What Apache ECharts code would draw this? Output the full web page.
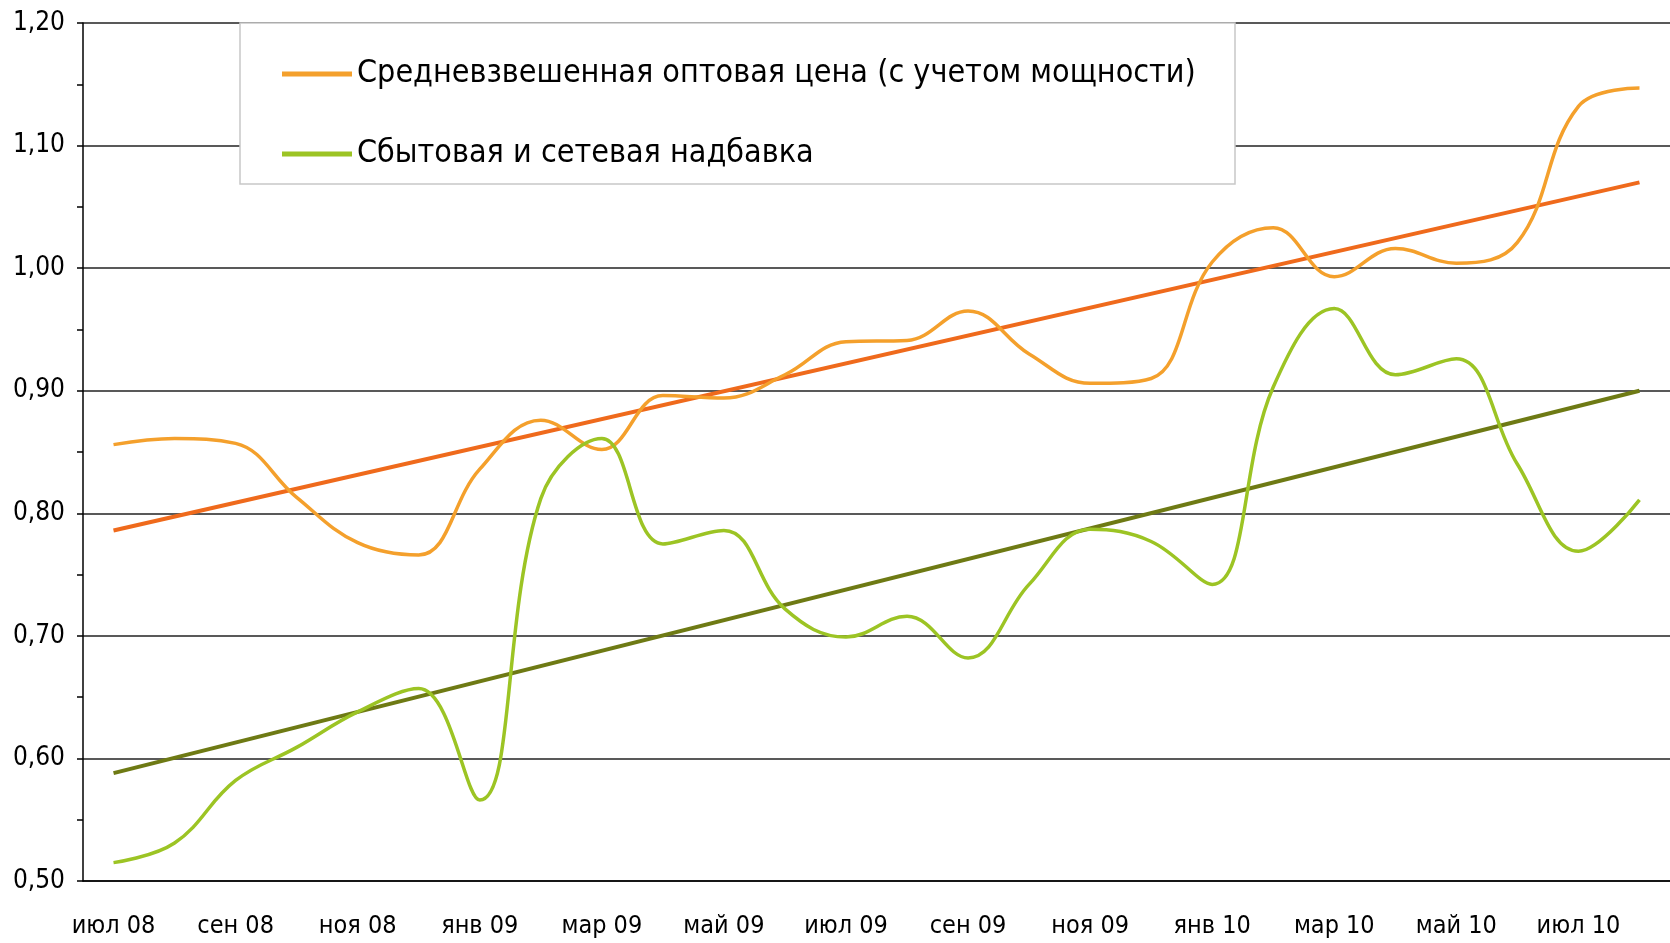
<!DOCTYPE html>
<html>
<head>
<meta charset="utf-8">
<script src="https://cdn.jsdelivr.net/npm/echarts@6/dist/echarts.min.js"></script>
<style>
  html, body { margin: 0; padding: 0; background: #fff; }
  #chart { width: 1670px; height: 943px; }
</style>
</head>
<body>
<div id="chart"></div>
<script>
var months = ['июл 08', 'авг 08', 'сен 08', 'окт 08', 'ноя 08', 'дек 08',
  'янв 09', 'фев 09', 'мар 09', 'апр 09', 'май 09', 'июн 09',
  'июл 09', 'авг 09', 'сен 09', 'окт 09', 'ноя 09', 'дек 09',
  'янв 10', 'фев 10', 'мар 10', 'апр 10', 'май 10', 'июн 10',
  'июл 10', 'авг 10'];

// средневзвешенная оптовая цена
var priceValues = [0.856, 0.861, 0.857, 0.813, 0.776, 0.766, 0.836, 0.876, 0.852, 0.896,
  0.894, 0.913, 0.940, 0.941, 0.965, 0.930, 0.906, 0.910, 1.005, 1.033,
  0.993, 1.016, 1.004, 1.021, 1.132, 1.147];

// сбытовая и сетевая надбавка
var markupValues = [0.515, 0.531, 0.582, 0.609, 0.638, 0.657, 0.566, 0.812, 0.861, 0.775,
  0.786, 0.722, 0.699, 0.716, 0.682, 0.742, 0.787, 0.777, 0.742, 0.903,
  0.967, 0.913, 0.926, 0.840, 0.769, 0.811];

// linear trend ends [month index, value]
var priceTrend = [[0, 0.786], [25, 1.070]];
var markupTrend = [[0, 0.588], [25, 0.900]];

var seriesNames = ['Средневзвешенная оптовая цена (с учетом мощности)', 'Сбытовая и сетевая надбавка'];

var font = "'Liberation Sans Narrow', 'DejaVu Sans Condensed', sans-serif";

var chart = echarts.init(document.getElementById('chart'));
chart.setOption({
  animation: false,
  backgroundColor: '#fff',
  grid: { left: 83, top: 23, bottom: 62, right: -9 },
  graphic: [{
    type: 'rect',
    z: 3,
    shape: { x: 240, y: 23, width: 995, height: 161 },
    style: { fill: '#fff', stroke: '#c8c8c8', lineWidth: 1.5 }
  }],
  legend: {
    data: seriesNames,
    orient: 'vertical',
    left: 240,
    top: 23,
    padding: [35, 30, 15, 42],
    itemGap: 48,
    itemWidth: 70,
    itemHeight: 5,
    icon: 'rect',
    z: 4,
    textStyle: { fontFamily: font, fontSize: 32, color: '#000' }
  },
  xAxis: {
    type: 'category',
    data: months,
    boundaryGap: true,
    axisLine: { lineStyle: { color: '#000', width: 1.5 } },
    axisTick: { interval: 0, length: 10, lineStyle: { color: '#000', width: 1.5 } },
    axisLabel: { interval: 1, margin: 33, fontFamily: font, fontSize: 25, color: '#000' },
    splitLine: { show: false }
  },
  yAxis: {
    type: 'value',
    min: 0.5,
    max: 1.2,
    interval: 0.1,
    axisLine: { show: true, lineStyle: { color: '#000', width: 1.5 } },
    axisTick: { show: true, length: 6, lineStyle: { color: '#000', width: 1.5 } },
    minorTick: { show: true, splitNumber: 2, length: 6, lineStyle: { color: '#000', width: 1.5 } },
    axisLabel: {
      margin: 18, fontFamily: font, fontSize: 26, color: '#000',
      formatter: function (v) { return v.toFixed(2).replace('.', ','); }
    },
    splitLine: { lineStyle: { color: '#222', width: 1.5 } }
  },
  series: [
    {
      name: seriesNames[0],
      type: 'line',
      data: priceValues,
      smooth: 0.4,
      showSymbol: false,
      color: '#f4a02c',
      lineStyle: { width: 3.5, color: '#f4a02c' },
      z: 3
    },
    {
      name: seriesNames[1],
      type: 'line',
      data: markupValues,
      smooth: 0.4,
      showSymbol: false,
      color: '#9cc424',
      lineStyle: { width: 3.5, color: '#9cc424' },
      z: 3
    },
    {
      name: 'trend1',
      type: 'line',
      data: priceTrend,
      showSymbol: false,
      lineStyle: { width: 4, color: '#ef6a1c' },
      z: 2
    },
    {
      name: 'trend2',
      type: 'line',
      data: markupTrend,
      showSymbol: false,
      lineStyle: { width: 4, color: '#6e7a14' },
      z: 2
    }
  ]
});
</script>
</body>
</html>
